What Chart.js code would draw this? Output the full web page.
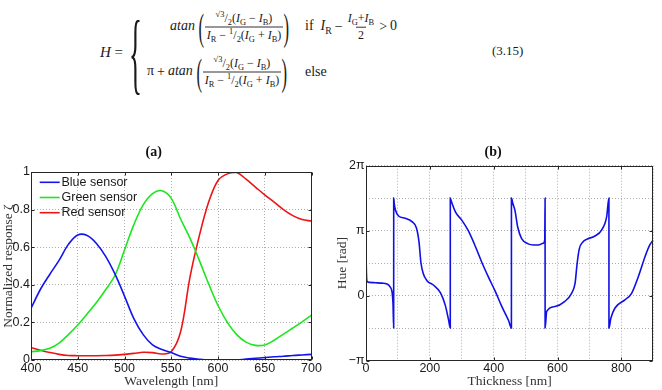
<!DOCTYPE html>
<html><head><meta charset="utf-8">
<script src="https://cdn.jsdelivr.net/npm/chart.js@4.4.1/dist/chart.umd.min.js"></script>
<style>
html,body{margin:0;padding:0;background:#fff;}
#page{position:relative;width:662px;height:390px;overflow:hidden;background:#fff;}
canvas{position:absolute;}
.g{position:absolute;transform:translateY(-50%);white-space:nowrap;font-family:'Liberation Serif',serif;font-size:14px;color:#1a1a1a;line-height:1;}
.g i{font-style:italic;}
.fr{display:inline-flex;flex-direction:column;align-items:center;vertical-align:middle;font-size:12px;line-height:1.15;}
.fr .nu{padding:0 2px 1px;}
.fr .de{border-top:0.8px solid #333;padding:1px 2px 0;}
.bp{font-size:37px;line-height:1;display:inline-block;vertical-align:middle;transform:scaleX(0.45);margin:0 -3px;}
sub,sup{font-size:70%;line-height:0;}
.op{margin:0 3px;}
</style></head>
<body><div id="page">
<div class="g" style="left:100px;top:52px;font-size:15px;"><i>H</i>&nbsp;=</div>
<div class="g" style="left:129px;top:53px;font-size:90px;transform:translateY(-50%) scaleX(0.3);transform-origin:left center;">{</div>
<div class="g" style="left:170px;top:27px;"><i>atan</i> <span class="bp">(</span><span class="fr"><span class="nu"><sup>√3</sup>/<sub>2</sub>(<i>I</i><sub>G</sub><span class="op">−</span><i>I</i><sub>B</sub>)</span><span class="de"><i>I</i><sub>R</sub><span class="op">−</span><sup>1</sup>/<sub>2</sub>(<i>I</i><sub>G</sub><span class="op">+</span><i>I</i><sub>B</sub>)</span></span><span class="bp">)</span></div>
<div class="g" style="left:305px;top:27px;">if&nbsp;&nbsp;<i>I</i><sub>R</sub><span class="op">−</span><span class="fr"><span class="nu"><i>I</i><sub>G</sub>+<i>I</i><sub>B</sub></span><span class="de">2</span></span><span class="op">&gt;</span>0</div>
<div class="g" style="left:147px;top:72px;">π<span class="op">+</span><i>atan</i> <span class="bp">(</span><span class="fr"><span class="nu"><sup>√3</sup>/<sub>2</sub>(<i>I</i><sub>G</sub><span class="op">−</span><i>I</i><sub>B</sub>)</span><span class="de"><i>I</i><sub>R</sub><span class="op">−</span><sup>1</sup>/<sub>2</sub>(<i>I</i><sub>G</sub><span class="op">+</span><i>I</i><sub>B</sub>)</span></span><span class="bp">)</span></div>
<div class="g" style="left:305px;top:72px;">else</div>
<div class="g" style="left:492px;top:50px;font-size:13px;">(3.15)</div>
<canvas id="ca" width="335" height="260" style="left:-4px;top:130px;width:335px;height:260px;"></canvas>
<canvas id="cb" width="329" height="260" style="left:333px;top:130px;width:329px;height:260px;"></canvas>
</div>
<script>
// ---------- (a) sensor responses ----------
const wavelengths = [400,410,420,430,440,450,460,470,480,490,500,510,520,530,540,550,560,570,580,590,600,610,620,630,640,650,660,670,680,690,700];
const blueSensor  = [0.275,0.375,0.455,0.53,0.615,0.665,0.662,0.62,0.55,0.455,0.34,0.22,0.135,0.08,0.056,0.04,0.02,0.01,0.004,0.0,0.0,0.0,0.0,0.005,0.009,0.013,0.017,0.02,0.024,0.027,0.030];
const greenSensor = [0.044,0.05,0.062,0.09,0.135,0.186,0.245,0.306,0.375,0.452,0.585,0.72,0.825,0.885,0.90,0.86,0.75,0.648,0.53,0.405,0.29,0.20,0.135,0.095,0.078,0.08,0.105,0.138,0.17,0.203,0.239];
const redSensor   = [0.066,0.052,0.04,0.03,0.024,0.023,0.023,0.023,0.024,0.026,0.030,0.035,0.041,0.039,0.032,0.044,0.15,0.44,0.66,0.84,0.955,0.99,0.997,0.962,0.92,0.878,0.84,0.80,0.768,0.747,0.739];
const seriesNames = ['Blue sensor','Green sensor','Red sensor'];
const wlTicks = [400,450,500,550,600,650,700];
const respTicks = [0,0.2,0.4,0.6,0.8,1];
const respTickLabels = ['0','0.2','0.4','0.6','0.8','1'];

// ---------- (b) hue vs thickness ----------
const thickness = [0,1,3,10,30,50,66,76,81.4,84.6,86.7,86.8,88.5,92,102,123,144,158,166,172,179,191,212,233,248,259,264,264.1,266,280,300,320,342,363,384,405,426,447,455.5,455.6,460,466.6,475,487.5,508,525,540,555,560,561,561.1,566,592,623,644,655,661,668,680,691,717,738,754,761,761.1,767,780,811,832,853,874,889,900];
const hue = [2.26,1.3,0.70,0.64,0.62,0.60,0.565,0.41,0.19,-0.38,-1.571,4.712,4.45,4.15,3.85,3.74,3.58,3.27,2.60,1.60,1.08,0.72,0.50,0.14,-0.45,-1.20,-1.571,4.712,4.62,4.05,3.65,3.15,2.40,1.60,0.88,0.20,-0.55,-1.22,-1.571,4.712,4.45,4.12,3.33,2.76,2.50,2.45,2.45,2.53,2.70,4.712,-1.571,-0.77,-0.53,-0.28,0.11,0.60,1.50,2.25,2.60,2.72,2.88,3.17,3.82,4.712,-1.571,-1.10,-0.60,-0.21,0.11,0.91,1.88,2.45,2.69];
const thickTicks = [0,100,200,300,400,500,600,700,800,900];
const thickTickLabels = ['0','','200','','400','','600','','800',''];
const hueTicks = [-Math.PI,-Math.PI/2,0,Math.PI/2,Math.PI,3*Math.PI/2,2*Math.PI];
const hueTickLabels = ['\u2212\u03c0','','0','','\u03c0','','2\u03c0'];

const TICK_FONT = {family:'Liberation Sans', size:12.5};
const TITLE_FONT = {family:'Liberation Serif', size:13.5, lineHeight:1.2};
const GRID = {color:'rgba(0,0,0,0.32)', lineWidth:1, drawTicks:false};
const BORDER = {display:false, dash:[1,2]};

const framePlugin = {
  id:'frame',
  afterDraw(chart){
    const {ctx, chartArea:a} = chart;
    const xs = chart.scales.x, ys = chart.scales.y;
    ctx.save();
    ctx.strokeStyle = '#262626'; ctx.lineWidth = 1;
    const L = Math.round(a.left)+0.5, R = Math.round(a.right)-0.5, T = Math.round(a.top)+0.5, B = Math.round(a.bottom)-0.5;
    ctx.strokeRect(L, T, R-L, B-T);
    ctx.beginPath();
    xs.ticks.forEach(t => { if (t.label === '') return; const p = Math.round(xs.getPixelForValue(t.value))+0.5;
      ctx.moveTo(p,B); ctx.lineTo(p,B-3); ctx.moveTo(p,T); ctx.lineTo(p,T+3); });
    ys.ticks.forEach(t => { if (t.label === '') return; const p = Math.round(ys.getPixelForValue(t.value))+0.5;
      ctx.moveTo(L,p); ctx.lineTo(L+3,p); ctx.moveTo(R,p); ctx.lineTo(R-3,p); });
    ctx.stroke();
    ctx.restore();
  }
};

const insideLegend = {
  id:'insideLegend',
  afterDraw(chart, args, o){
    if (!o || !o.show) return;
    const {ctx, chartArea:a} = chart;
    ctx.save();
    ctx.font = '12.5px "Liberation Sans"';
    ctx.textBaseline = 'middle';
    chart.data.datasets.forEach((ds,i) => {
      const y = a.top + o.top + i*o.spacing;
      ctx.strokeStyle = ds.borderColor; ctx.lineWidth = ds.borderWidth;
      ctx.beginPath(); ctx.moveTo(a.left+o.x0, y); ctx.lineTo(a.left+o.x1, y); ctx.stroke();
      ctx.fillStyle = '#1a1a1a';
      ctx.fillText(ds.label, a.left+o.tx, y);
    });
    ctx.restore();
  }
};

function pts(xv, yv){ return xv.map((x,i) => ({x:x, y:yv[i]})); }

new Chart(document.getElementById('ca'), {
  type:'line',
  data:{ datasets:[
    {label:seriesNames[0], data:pts(wavelengths, blueSensor), borderColor:'#1414ee', borderWidth:1.6, pointRadius:0, tension:0.35},
    {label:seriesNames[1], data:pts(wavelengths, greenSensor), borderColor:'#1ee61e', borderWidth:1.6, pointRadius:0, tension:0.35},
    {label:seriesNames[2], data:pts(wavelengths, redSensor), borderColor:'#ee1414', borderWidth:1.6, pointRadius:0, tension:0.35}
  ]},
  options:{
    responsive:false, animation:false, devicePixelRatio:1, events:[],
    layout:{padding:{left:0, right:19.5, top:0, bottom:0}},
    plugins:{
      legend:{display:false}, tooltip:{enabled:false},
      title:{display:true, text:'(a)', color:'#111', font:{family:'Liberation Serif', size:14, weight:'bold', lineHeight:1}, padding:{top:15, bottom:13}},
      insideLegend:{show:true, top:10.3, spacing:15.2, x0:8.7, x1:28.7, tx:30.5}
    },
    scales:{
      x:{type:'linear', min:400, max:700,
        afterBuildTicks:s => { s.ticks = wlTicks.map(v => ({value:v})); },
        afterFit:s => { s.height = 30; },
        ticks:{font:TICK_FONT, color:'#1a1a1a', padding:1, maxRotation:0, autoSkip:false, callback:(v,i) => String(wlTicks[i])},
        grid:GRID, border:BORDER,
        title:{display:true, text:'Wavelength [nm]', font:TITLE_FONT, color:'#333', padding:{top:0, bottom:0}}},
      y:{type:'linear', min:0, max:1,
        afterBuildTicks:s => { s.ticks = respTicks.map(v => ({value:v})); },
        afterFit:s => { s.width = 35; },
        ticks:{font:TICK_FONT, color:'#1a1a1a', padding:1, autoSkip:false, callback:(v,i) => respTickLabels[i]},
        grid:GRID, border:BORDER,
        title:{display:true, text:'Normalized response \u03b6', font:TITLE_FONT, color:'#333', padding:{top:4, bottom:0}}}
    }
  },
  plugins:[framePlugin, insideLegend]
});

new Chart(document.getElementById('cb'), {
  type:'line',
  data:{ datasets:[
    {label:'Hue', data:pts(thickness, hue), borderColor:'#1010e6', borderWidth:1.6, pointRadius:0, cubicInterpolationMode:'monotone'}
  ]},
  options:{
    responsive:false, animation:false, devicePixelRatio:1, events:[],
    layout:{padding:{left:0, right:8.7, top:0, bottom:0}},
    plugins:{
      legend:{display:false}, tooltip:{enabled:false},
      title:{display:true, text:'(b)', color:'#111', font:{family:'Liberation Serif', size:14, weight:'bold', lineHeight:1}, padding:{top:15, bottom:6.7}}
    },
    scales:{
      x:{type:'linear', min:0, max:900,
        afterBuildTicks:s => { s.ticks = thickTicks.map(v => ({value:v})); },
        afterFit:s => { s.height = 29.5; },
        ticks:{font:TICK_FONT, color:'#1a1a1a', padding:1, maxRotation:0, autoSkip:false, callback:(v,i) => thickTickLabels[i]},
        grid:GRID, border:BORDER,
        title:{display:true, text:'Thickness [nm]', font:TITLE_FONT, color:'#333', padding:{top:0, bottom:0}}},
      y:{type:'linear', min:-Math.PI, max:2*Math.PI,
        afterBuildTicks:s => { s.ticks = hueTicks.map(v => ({value:v})); },
        afterFit:s => { s.width = 33; },
        ticks:{font:TICK_FONT, color:'#1a1a1a', padding:1.5, autoSkip:false, callback:(v,i) => hueTickLabels[i]},
        grid:GRID, border:BORDER,
        title:{display:true, text:'Hue [rad]', font:TITLE_FONT, color:'#333', padding:{top:1.6, bottom:0}}}
    }
  },
  plugins:[framePlugin]
});
</script>
</body></html>
